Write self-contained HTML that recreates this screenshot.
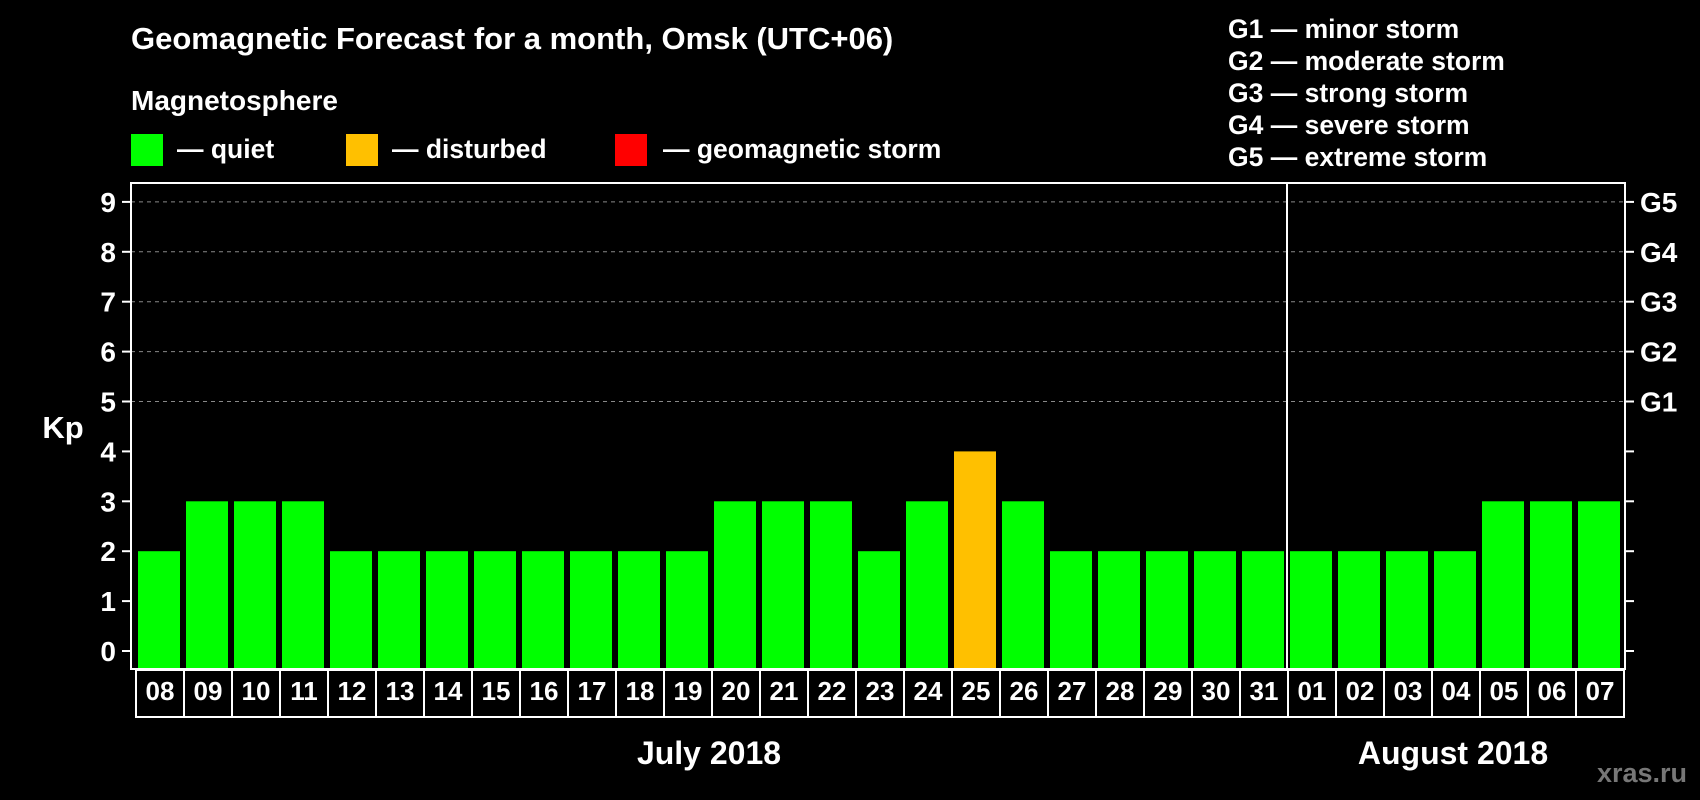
<!DOCTYPE html>
<html><head><meta charset="utf-8"><style>
html,body{margin:0;padding:0;background:#000;}
svg{display:block;font-family:"Liberation Sans",Arial,sans-serif;font-weight:bold;}
</style></head><body>
<svg width="1700" height="800" viewBox="0 0 1700 800">
<rect width="1700" height="800" fill="#000"/>
<text x="131" y="49" fill="#fff" font-size="31">Geomagnetic Forecast for a month, Omsk (UTC+06)</text>
<text x="131" y="110" fill="#fff" font-size="28">Magnetosphere</text>
<g><rect x="131" y="134" width="32" height="32" fill="#00ff00"/><text x="177" y="158" fill="#fff" font-size="26.5">— quiet</text></g>
<g><rect x="346" y="134" width="32" height="32" fill="#ffc000"/><text x="392" y="158" fill="#fff" font-size="26.5">— disturbed</text></g>
<g><rect x="615" y="134" width="32" height="32" fill="#ff0000"/><text x="663" y="158" fill="#fff" font-size="26.5">— geomagnetic storm</text></g>
<g fill="#fff" font-size="26.5">
<text x="1228" y="38">G1 — minor storm</text>
<text x="1228" y="70">G2 — moderate storm</text>
<text x="1228" y="102">G3 — strong storm</text>
<text x="1228" y="134">G4 — severe storm</text>
<text x="1228" y="166">G5 — extreme storm</text>
</g>
<text x="63" y="438" fill="#fff" font-size="31" text-anchor="middle">Kp</text>
<g id="plot"></g>
<text x="709" y="764" fill="#fff" font-size="32" text-anchor="middle">July 2018</text>
<text x="1453" y="764" fill="#fff" font-size="32" text-anchor="middle">August 2018</text>
<text x="1642" y="782" fill="#777" font-size="27" text-anchor="middle">xras.ru</text>
</svg>
<script>
const days = ["08","09","10","11","12","13","14","15","16","17","18","19","20","21","22","23","24","25","26","27","28","29","30","31","01","02","03","04","05","06","07"];
const kpValues = [2,3,3,3,2,2,2,2,2,2,2,2,3,3,3,2,3,4,3,2,2,2,2,2,2,2,2,2,3,3,3];
const yTicks = [0,1,2,3,4,5,6,7,8,9];
const gLabels = ["","","","","","G1","G2","G3","G4","G5"];
const monthBreakIndex = 24;

(function(){
const NS="http://www.w3.org/2000/svg";
const g=document.getElementById('plot');
const pLeft=131, pRight=1625, pTop=183, pBottom=669;
const boxLeft=135, step=48;
const yS=v=>651-49.9*v;
const xS=i=>boxLeft+step*i;
function mk(t,a){const e=document.createElementNS(NS,t);for(const k in a)e.setAttribute(k,a[k]);g.appendChild(e);return e;}
yTicks.forEach((v,i)=>{
  if(v>=5){const l=mk('line',{x1:pLeft,x2:pRight,y1:yS(v),y2:yS(v),stroke:'#888','stroke-width':1,'stroke-dasharray':'4 4'});
  
  }
  mk('line',{x1:pLeft-9,x2:pLeft,y1:yS(v),y2:yS(v),stroke:'#fff','stroke-width':2});
  mk('line',{x1:pRight,x2:pRight+9,y1:yS(v),y2:yS(v),stroke:'#fff','stroke-width':2});
  const t=mk('text',{x:116,y:yS(v)+10,fill:'#fff','font-size':28,'text-anchor':'end'});t.textContent=v;
  
  
  if(gLabels[i]){const r=mk('text',{x:1640,y:yS(v)+10,fill:'#fff','font-size':28});r.textContent=gLabels[i];
  
  }
});
kpValues.forEach((v,i)=>{
  const col=v>=5?'#ff0000':(v>=4?'#ffc000':'#00ff00');
  const b=mk('rect',{x:xS(i)+3,y:yS(v),width:42,height:pBottom-yS(v)-1,fill:col});
  
  
  const bx=mk('rect',{x:xS(i)+1,y:pBottom+1,width:step,height:47,fill:'none',stroke:'#fff','stroke-width':2});
  
  
  const t=mk('text',{x:xS(i)+step/2+1,y:pBottom+31,fill:'#fff','font-size':26,'text-anchor':'middle'});t.textContent=days[i];
  
  
});
const d=mk('line',{x1:xS(monthBreakIndex),x2:xS(monthBreakIndex),y1:pTop,y2:pBottom,stroke:'#fff','stroke-width':2});


const f=mk('rect',{x:pLeft,y:pTop,width:pRight-pLeft,height:pBottom-pTop,fill:'none',stroke:'#fff','stroke-width':2});


})();
</script>
</body></html>
